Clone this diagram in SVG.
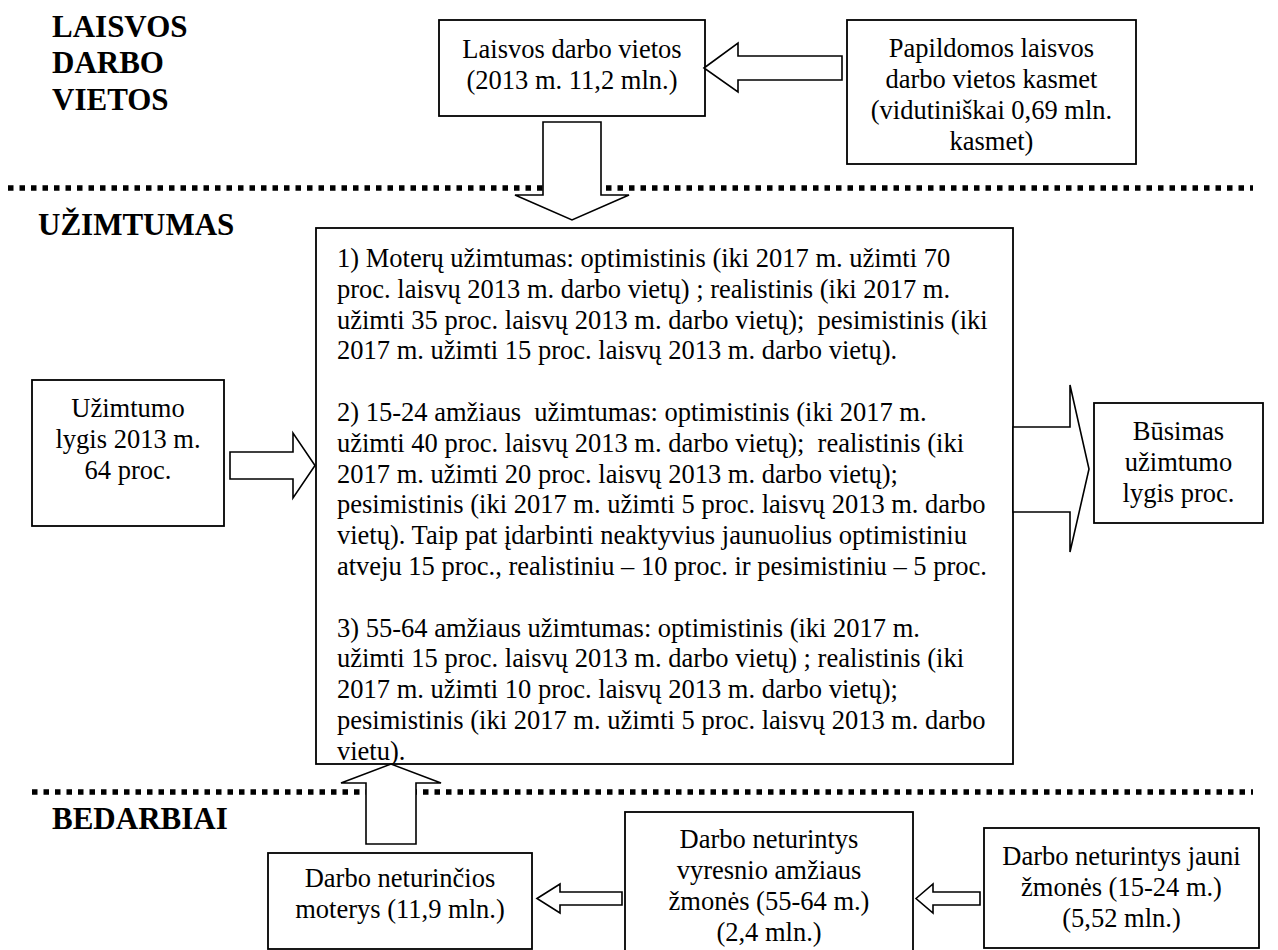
<svg xmlns="http://www.w3.org/2000/svg" width="1278" height="950" viewBox="0 0 1278 950">
<style>
.bg{fill:#fff}
.sep{stroke:#000;stroke-width:5.5;stroke-dasharray:5.5 6;fill:none}
.box{fill:#fff;stroke:#000;stroke-width:1.8}
.arr{fill:#fff;stroke:#000;stroke-width:1.6;stroke-linejoin:miter}
.t{font-family:"Liberation Serif","Tinos","Times New Roman",serif;font-size:26.5px;fill:#000}
.c{text-anchor:middle}
.h{font-family:"Liberation Serif","Tinos","Times New Roman",serif;font-size:31px;font-weight:bold;fill:#000}
.p{white-space:pre}
</style>
<rect class="bg" x="0" y="0" width="1278" height="950"/>

<g id="section-titles">
<text class="h" x="52" y="37">LAISVOS</text>
<text class="h" x="52" y="73">DARBO</text>
<text class="h" x="52" y="110">VIETOS</text>
<text class="h" x="38" y="235">UŽIMTUMAS</text>
<text class="h" x="52" y="829">BEDARBIAI</text>
</g>

<g id="separators">
<line class="sep" x1="8" y1="188" x2="1253" y2="188"/>
<line class="sep" x1="32" y1="792" x2="1253" y2="792"/>
</g>

<g id="node-laisvos">
<rect class="box" x="439" y="20" width="266" height="96"/>
<text class="t c" x="572" y="58">Laisvos darbo vietos</text>
<text class="t c" x="572" y="89">(2013 m. 11,2 mln.)</text>
</g>

<g id="node-papildomos">
<rect class="box" x="847" y="20" width="289" height="144"/>
<text class="t c" x="991.5" y="57">Papildomos laisvos</text>
<text class="t c" x="991.5" y="88">darbo vietos kasmet</text>
<text class="t c" x="991.5" y="119">(vidutiniškai 0,69 mln.</text>
<text class="t c" x="991.5" y="150">kasmet)</text>
</g>

<g id="node-main">
<rect class="box" x="316" y="228" width="697" height="536"/>
<text class="t p" x="337" y="267">1) Moterų užimtumas: optimistinis (iki 2017 m. užimti 70</text>
<text class="t p" x="337" y="297.8">proc. laisvų 2013 m. darbo vietų) ; realistinis (iki 2017 m.</text>
<text class="t p" x="337" y="328.6">užimti 35 proc. laisvų 2013 m. darbo vietų);  pesimistinis (iki</text>
<text class="t p" x="337" y="359.4">2017 m. užimti 15 proc. laisvų 2013 m. darbo vietų).</text>
<text class="t p" x="337" y="421">2) 15-24 amžiaus  užimtumas: optimistinis (iki 2017 m.</text>
<text class="t p" x="337" y="451.8">užimti 40 proc. laisvų 2013 m. darbo vietų);  realistinis (iki</text>
<text class="t p" x="337" y="482.6">2017 m. užimti 20 proc. laisvų 2013 m. darbo vietų);</text>
<text class="t p" x="337" y="513.4">pesimistinis (iki 2017 m. užimti 5 proc. laisvų 2013 m. darbo</text>
<text class="t p" x="337" y="544.2">vietų). Taip pat įdarbinti neaktyvius jaunuolius optimistiniu</text>
<text class="t p" x="337" y="575">atveju 15 proc., realistiniu – 10 proc. ir pesimistiniu – 5 proc.</text>
<text class="t p" x="337" y="636.6">3) 55-64 amžiaus užimtumas: optimistinis (iki 2017 m.</text>
<text class="t p" x="337" y="667.4">užimti 15 proc. laisvų 2013 m. darbo vietų) ; realistinis (iki</text>
<text class="t p" x="337" y="698.2">2017 m. užimti 10 proc. laisvų 2013 m. darbo vietų);</text>
<text class="t p" x="337" y="729">pesimistinis (iki 2017 m. užimti 5 proc. laisvų 2013 m. darbo</text>
<text class="t p" x="337" y="759.8">vietu).</text>
</g>

<g id="node-uzimtumo-lygis">
<rect class="box" x="32" y="380" width="192" height="146"/>
<text class="t c" x="128" y="417">Užimtumo</text>
<text class="t c" x="128" y="448">lygis 2013 m.</text>
<text class="t c" x="128" y="479">64 proc.</text>
</g>

<g id="node-busimas">
<rect class="box" x="1094" y="403" width="169" height="120"/>
<text class="t c" x="1178.5" y="440">Būsimas</text>
<text class="t c" x="1178.5" y="471">užimtumo</text>
<text class="t c" x="1178.5" y="502">lygis proc.</text>
</g>

<g id="node-moterys">
<rect class="box" x="268" y="853" width="264" height="96"/>
<text class="t c" x="400" y="887">Darbo neturinčios</text>
<text class="t c" x="400" y="918">moterys (11,9 mln.)</text>
</g>

<g id="node-vyresnio">
<rect class="box" x="625" y="812" width="288" height="142"/>
<text class="t c" x="769" y="848">Darbo neturintys</text>
<text class="t c" x="769" y="879">vyresnio amžiaus</text>
<text class="t c" x="769" y="910">žmonės (55-64 m.)</text>
<text class="t c" x="769" y="941">(2,4 mln.)</text>
</g>

<g id="node-jauni">
<rect class="box" x="984" y="828" width="275" height="120"/>
<text class="t c" x="1121.5" y="865">Darbo neturintys jauni</text>
<text class="t c" x="1121.5" y="896">žmonės (15-24 m.)</text>
<text class="t c" x="1121.5" y="927">(5,52 mln.)</text>
</g>

<g id="connectors">
<polygon class="arr" points="704,68 738,43 738,56 842,56 842,80 738,80 738,92"/>
<polygon class="arr" points="543,122 601,122 601,195 629,195 572,220 515,195 543,195"/>
<polygon class="arr" points="230,452 293,452 293,433 315,465.5 293,498 293,479 230,479"/>
<polygon class="arr" points="1013,427 1070,427 1070,385 1089,469 1070,552 1070,512 1013,512"/>
<polygon class="arr" points="366,844 366,783 341,783 391,764 441,783 416,783 416,844"/>
<polygon class="arr" points="537,898.5 560,884 560,892 622,892 622,905 560,905 560,913"/>
<polygon class="arr" points="916,898.5 933,884 933,892 980,892 980,905 933,905 933,913"/>
</g>
</svg>
